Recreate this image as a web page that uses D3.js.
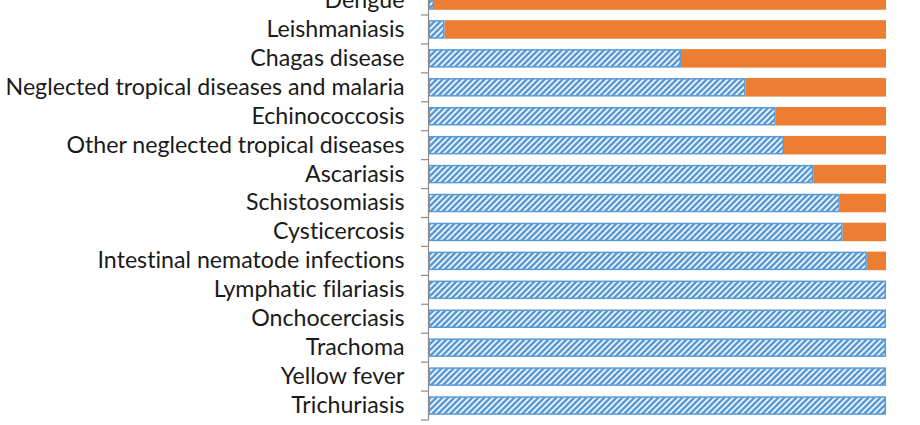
<!DOCTYPE html>
<html>
<head>
<meta charset="utf-8">
<script src="https://cdn.jsdelivr.net/npm/d3@7"></script>
<style>
html,body{margin:0;padding:0;background:#fff;}
svg{display:block;}
.tick text{font-variant-ligatures:none;font-feature-settings:"liga" 0;}
</style>
</head>
<body>
<svg id="chart" width="920" height="425"></svg>
<script>
const categories = [
  "Dengue", "Leishmaniasis", "Chagas disease",
  "Neglected tropical diseases and malaria", "Echinococcosis",
  "Other neglected tropical diseases", "Ascariasis", "Schistosomiasis",
  "Cysticercosis", "Intestinal nematode infections", "Lymphatic filariasis",
  "Onchocerciasis", "Trachoma", "Yellow fever", "Trichuriasis"
];
const hatchedValues = [1.2, 3.5, 55.2, 69.3, 75.9, 77.7, 84.1, 89.9, 90.5, 95.8, 100, 100, 100, 100, 100];
const solidValues   = [98.8, 96.5, 44.8, 30.7, 24.1, 22.3, 15.9, 10.1, 9.5, 4.2, 0, 0, 0, 0, 0];

const svg = d3.select("#chart");
const blue = "#5B9BD5", orange = "#ED7D31";

const defs = svg.append("defs");
const pat = defs.append("pattern")
  .attr("id", "hatch").attr("patternUnits", "userSpaceOnUse")
  .attr("width", 6).attr("height", 6);
pat.append("rect").attr("width", 6).attr("height", 6).attr("fill", "#f4f8fc");
pat.append("path")
  .attr("d", "M-1.5,1.5 L1.5,-1.5 M0,6 L6,0 M4.5,7.5 L7.5,4.5")
  .attr("stroke", blue).attr("stroke-width", 2.6);

const step = 28.93;
const yBottom = 420;
const y = d3.scaleBand().domain(categories)
  .range([yBottom - step * categories.length, yBottom])
  .paddingInner(0.36).paddingOuter(0.18);
const x = d3.scaleLinear().domain([0, 100]).range([428.5, 886]);

const rows = categories.map((c, i) => ({c, h: hatchedValues[i], s: solidValues[i]}));

// solid (orange) segments
svg.append("g").selectAll("rect").data(rows.filter(d => d.s > 0)).join("rect")
  .attr("x", d => x(d.h)).attr("width", d => x(d.h + d.s) - x(d.h))
  .attr("y", d => y(d.c)).attr("height", y.bandwidth())
  .attr("fill", orange);

// hatched (blue) segments
svg.append("g").selectAll("rect").data(rows).join("rect")
  .attr("x", d => x(0) + 0.75).attr("width", d => Math.max(0, x(d.h) - x(0) - 1.5))
  .attr("y", d => y(d.c) + 0.75).attr("height", y.bandwidth() - 1.5)
  .attr("fill", "url(#hatch)").attr("stroke", blue).attr("stroke-width", 1.5);

// axis
const axis = d3.axisLeft(y).tickSize(0).tickPadding(24);
const gA = svg.append("g").attr("transform", `translate(${x(0)},0)`).call(axis);
gA.select(".domain").attr("stroke", "#8c8c8c").attr("stroke-width", 1.2)
  .attr("d", `M0,${y.range()[0]}V${yBottom}`);
gA.selectAll(".tick text")
  .attr("font-family", "Lato, 'Open Sans', sans-serif")
  .attr("font-size", 23.2).attr("fill", "#1a1a1a");

// tick marks between categories
const bounds = d3.range(categories.length + 1).map(i => y.range()[0] + i * y.step());
gA.append("g").selectAll("line").data(bounds).join("line")
  .attr("x1", -7.5).attr("x2", 0).attr("y1", d => d).attr("y2", d => d)
  .attr("stroke", "#8c8c8c").attr("stroke-width", 1.2);
</script>
</body>
</html>
